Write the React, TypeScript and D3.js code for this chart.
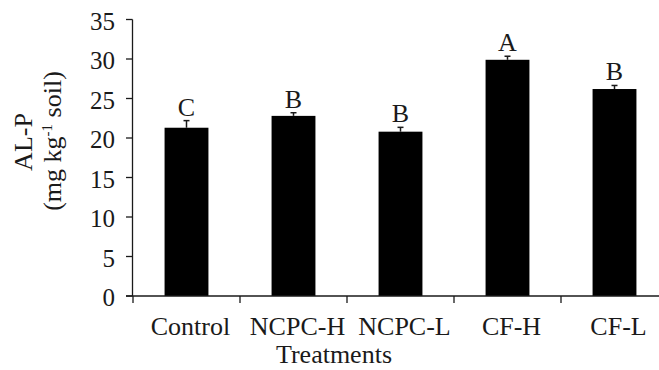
import * as d3 from 'd3';

// Chart data
const treatments = ['Control', 'NCPC-H', 'NCPC-L', 'CF-H', 'CF-L'];
const alpValues = [21.3, 22.8, 20.8, 29.9, 26.2];
const alpErrors = [0.9, 0.4, 0.55, 0.45, 0.45];
const groupLetters = ['C', 'B', 'B', 'A', 'B'];
const yTicks = [0, 5, 10, 15, 20, 25, 30, 35];

const width = 659;
const height = 370;
const font = '"Liberation Serif", "Times New Roman", serif';
const ink = '#1a1a1a';

export default function App() {
  const x = d3
    .scaleBand<string>()
    .domain(treatments)
    .range([133, 668])
    .paddingInner(0.59)
    .paddingOuter(0.295);

  // unpadded bands for the category boundary ticks
  const xEdge = d3.scaleBand<string>().domain(treatments).range([133, 668]);

  const y = d3.scaleLinear().domain([0, 35]).range([296, 19.5]);

  return (
    <svg
      width={width}
      height={height}
      style={{ position: 'absolute', left: 0, top: 0, background: '#fff' }}
      fontFamily={font}
    >
      {/* Bars */}
      {treatments.map((t, i) => (
        <rect
          key={t}
          x={x(t)}
          y={y(alpValues[i])}
          width={x.bandwidth()}
          height={y(0) - y(alpValues[i])}
          fill="#000"
        />
      ))}

      {/* Error bars */}
      {treatments.map((t, i) => {
        const cx = (x(t) as number) + x.bandwidth() / 2;
        const top = y(alpValues[i] + alpErrors[i]);
        return (
          <g key={t} stroke={ink} strokeWidth={1.5}>
            <line x1={cx} x2={cx} y1={y(alpValues[i])} y2={top} />
            <line x1={cx - 3} x2={cx + 3} y1={top} y2={top} />
          </g>
        );
      })}

      {/* Significance letters */}
      {treatments.map((t, i) => (
        <text
          key={t}
          x={(x(t) as number) + x.bandwidth() / 2}
          y={y(alpValues[i] + alpErrors[i]) - 5}
          textAnchor="middle"
          fontSize={26}
          fill={ink}
        >
          {groupLetters[i]}
        </text>
      ))}

      {/* Y axis */}
      <line x1={132.5} x2={132.5} y1={y(35)} y2={y(0)} stroke={ink} strokeWidth={1.3} />
      {yTicks.map((v) => (
        <g key={v}>
          <line x1={126} x2={132.5} y1={y(v)} y2={y(v)} stroke={ink} strokeWidth={1.3} />
          <text x={115} y={y(v) + 1.5} dy="0.34em" textAnchor="end" fontSize={25} fill={ink}>
            {v}
          </text>
        </g>
      ))}

      {/* X axis */}
      <line x1={126} x2={668} y1={y(0)} y2={y(0)} stroke={ink} strokeWidth={1.3} />
      {treatments.map((t) => (
        <line
          key={t}
          x1={xEdge(t)}
          x2={xEdge(t)}
          y1={y(0)}
          y2={y(0) + 7}
          stroke={ink}
          strokeWidth={1.3}
        />
      ))}
      {treatments.map((t) => (
        <text
          key={t}
          x={(x(t) as number) + x.bandwidth() / 2 + 4}
          y={335}
          textAnchor="middle"
          fontSize={26}
          fill={ink}
        >
          {t}
        </text>
      ))}

      {/* Axis titles */}
      <text x={334} y={363} textAnchor="middle" fontSize={26} fill={ink}>
        Treatments
      </text>
      <g transform="translate(32,142) rotate(-90)">
        <text textAnchor="middle" fontSize={26} fill={ink}>
          AL-P
        </text>
      </g>
      <g transform="translate(61,141) rotate(-90)">
        <text textAnchor="middle" fontSize={26} fill={ink}>
          (mg kg
          <tspan fontSize={15} dy={-9}>-1</tspan>
          <tspan dy={9}> soil)</tspan>
        </text>
      </g>
    </svg>
  );
}
